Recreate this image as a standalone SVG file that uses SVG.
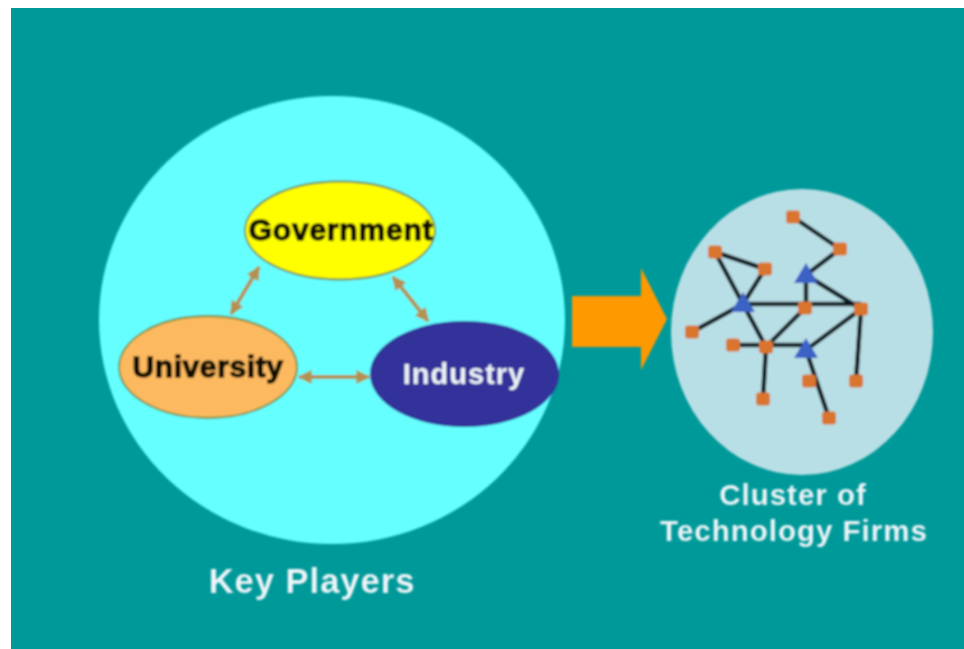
<svg xmlns="http://www.w3.org/2000/svg" width="964" height="649" viewBox="0 0 964 649">
<defs>
<marker id="ah" viewBox="0 0 10 10" refX="9" refY="5" markerWidth="3.500" markerHeight="3.500" orient="auto-start-reverse"><path d="M0 0L10 5L0 10Z" fill="#b5904f"/></marker>
<filter id="soft" x="-5%" y="-5%" width="110%" height="110%"><feGaussianBlur stdDeviation="0.8"/></filter>
<rect id="sq" x="-7" y="-6.500" width="14" height="13" rx="3" fill="#d9752f"/>
<polygon id="tri" points="0,-12 12,8 -12,8" fill="#3a62c4"/>
</defs>
<style>
.lb{font-family:"Liberation Sans",Arial,sans-serif}
.k{font-weight:700;fill:#0c0800;font-size:30px;stroke:#0c0800;stroke-width:1.300px}
.w{fill:#eef4f8;font-weight:700;letter-spacing:1px}
.o{stroke:#6f8a3a;stroke-width:1.800}
.c{stroke:#b5904f;stroke-width:4;fill:none;marker-start:url(#ah);marker-end:url(#ah)}
.n{stroke:#0c1f23;stroke-width:4.500;fill:none}
</style>
<rect width="964" height="649" fill="#fff"/>
<rect x="11" y="8" width="953" height="641" fill="#009999"/>
<g filter="url(#soft)">
<ellipse id="key-players-circle" cx="332" cy="320" rx="233" ry="224" fill="#66ffff"/>
<ellipse id="cluster-circle" cx="802" cy="332" rx="131" ry="143" fill="#b9dfe6"/>
<g id="connectors">
<path class="c" d="M259 267L231 314"/>
<path class="c" d="M393 277L428 321"/>
<path class="c" d="M299 377L369 377"/>
</g>
<g id="government"><ellipse class="o" cx="340" cy="230.500" rx="95" ry="49" fill="#ffff00"/><text class="lb k" x="341" y="240" letter-spacing=".8" text-anchor="middle">Government</text></g>
<g id="university"><ellipse class="o" cx="208" cy="367" rx="89" ry="51" fill="#fdb95f"/><text class="lb k" x="208" y="377" letter-spacing=".6" text-anchor="middle">University</text></g>
<g id="industry"><ellipse cx="464.500" cy="374" rx="94.500" ry="53" fill="#33339a"/><text class="lb w" x="464" y="384" font-size="29" text-anchor="middle">Industry</text></g>
<path id="big-arrow" d="M572 296H641V268L667 319L641 370V347H572Z" fill="#ff9900"/>
<g id="network-links">
<path class="n" d="M793 217L840 249L806 275M806 275V308M806 275L861 309M715 252L765 269L743 304L715 252M743 304L692 332M743 304H861M743 304L766 347M805 308L766 347M733 345H806M861 309L806 350M861 309L856 381M766 347L763 399M806 350L829 418"/>
</g>
<g id="firms">
<use href="#sq" x="793" y="217"/><use href="#sq" x="840" y="249"/><use href="#sq" x="715" y="252"/><use href="#sq" x="765" y="269"/>
<use href="#sq" x="805" y="308"/><use href="#sq" x="861" y="309"/><use href="#sq" x="692" y="332"/><use href="#sq" x="733" y="345"/>
<use href="#sq" x="766" y="347"/><use href="#sq" x="809" y="381"/><use href="#sq" x="856" y="381"/><use href="#sq" x="763" y="399"/><use href="#sq" x="829" y="418"/>
<use href="#tri" x="806" y="275"/><use href="#tri" x="743" y="304"/><use href="#tri" x="806" y="350"/>
</g>
<text class="lb w" x="312" y="593" font-size="34.500" text-anchor="middle">Key Players</text>
<text class="lb w" x="793" y="505" font-size="29.500" text-anchor="middle">Cluster of</text>
<text class="lb w" x="794" y="541" font-size="29.500" text-anchor="middle">Technology Firms</text>
</g>
</svg>
